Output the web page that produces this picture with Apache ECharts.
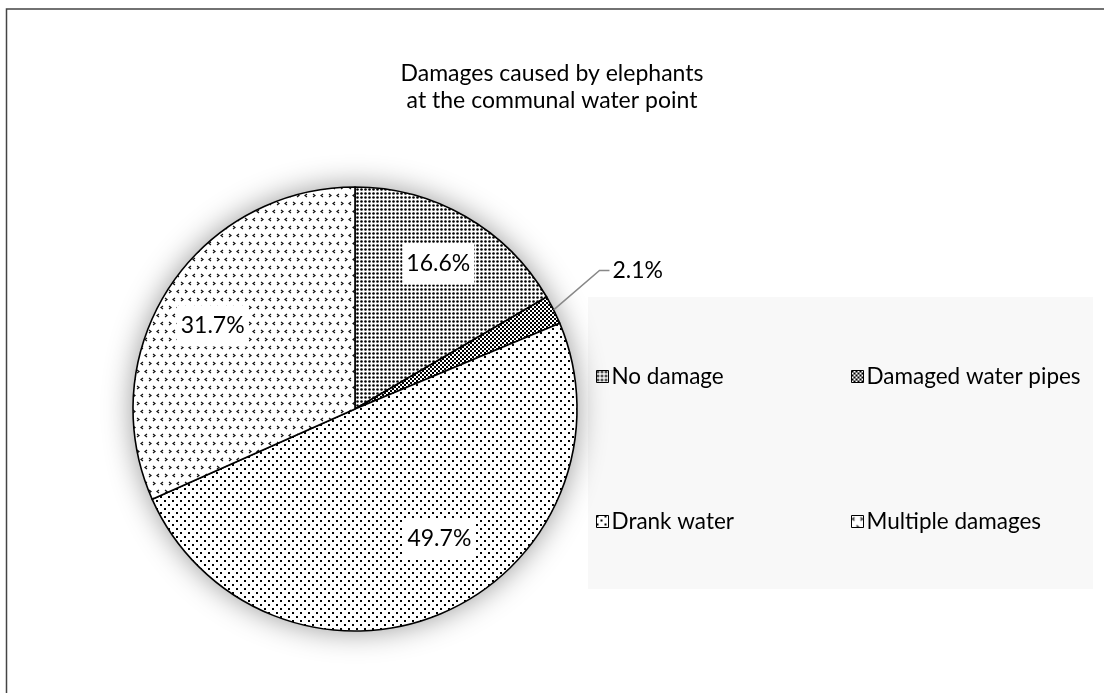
<!DOCTYPE html>
<html>
<head>
<meta charset="utf-8">
<title>Damages caused by elephants at the communal water point</title>
<script src="https://cdn.jsdelivr.net/npm/echarts@6/dist/echarts.min.js"></script>
<style>
  html, body { margin: 0; padding: 0; background: #fff; }
  #chart { width: 1104px; height: 693px; }
</style>
</head>
<body>
<div id="chart"></div>
<script>
// Survey answers and their shares (percent of respondents)
const categories = ['No damage', 'Damaged water pipes', 'Drank water', 'Multiple damages'];
const shares = [16.6, 2.1, 49.7, 31.7];
const titleLines = ['Damages caused by elephants', 'at the communal water point'];

const FONT = 'Lato, "Open Sans", sans-serif';

// Small repeating tiles used as monochrome hatch fills
function tile(w, h, draw) {
  const c = document.createElement('canvas');
  c.width = w; c.height = h;
  const ctx = c.getContext('2d');
  ctx.fillStyle = '#fff';
  ctx.fillRect(0, 0, w, h);
  ctx.fillStyle = '#000';
  ctx.strokeStyle = '#111';
  draw(ctx);
  return { image: c, repeat: 'repeat' };
}

const fills = [
  // dense dot grid
  tile(4, 4, ctx => { ctx.beginPath(); ctx.arc(1.5, 1.5, 1.3, 0, Math.PI * 2); ctx.fill(); }),
  // fine checkerboard
  tile(4, 4, ctx => { ctx.fillRect(0, 0, 2, 2); ctx.fillRect(2, 2, 2, 2); }),
  // sparse staggered dots
  tile(8, 8, ctx => { ctx.fillRect(0, 0, 2, 2); ctx.fillRect(4, 4, 2, 2); }),
  // small chevrons
  tile(16, 16, ctx => {
    ctx.lineWidth = 1.2;
    const lt = (x, y) => { ctx.beginPath(); ctx.moveTo(x + 2, y); ctx.lineTo(x, y + 1.5); ctx.lineTo(x + 2, y + 3); ctx.stroke(); };
    const gt = (x, y) => { ctx.beginPath(); ctx.moveTo(x, y); ctx.lineTo(x + 2, y + 1.5); ctx.lineTo(x, y + 3); ctx.stroke(); };
    lt(1, 2); gt(9, 2); gt(5, 10); lt(13, 10);
  })
];

const pieCenter = [355, 409];
const pieRadius = 222;

const sliceData = categories.map((name, i) => ({
  name: name,
  value: shares[i],
  itemStyle: { color: fills[i] }
}));

const labelData = categories.map((name, i) => {
  const d = { name: name, value: shares[i] };
  if (i === 1) {
    d.label = {
      position: 'outside',
      backgroundColor: 'transparent',
      padding: [0, 0, 0, 3]
    };
    d.labelLine = { show: true, length: 30, length2: 10, lineStyle: { color: '#888', width: 1.5 } };
  }
  return d;
});

// nudges for the value labels, relative to the default spot
function nudgeLabel(p) {
  const r = p.labelRect;
  if (p.dataIndex === 1) {
    return { x: r.x + 14, y: r.y + r.height / 2 - 26, align: 'left', verticalAlign: 'middle' };
  }
  if (p.dataIndex === 2) return { dx: 18, dy: -24 };
  if (p.dataIndex === 3) return { dx: -2, dy: 8 };
  return {};
}

function legendAt(name, i, left, top) {
  return {
    data: [{ name: name, itemStyle: { color: fills[i], borderColor: '#000', borderWidth: 1 } }],
    left: left, top: top,
    icon: 'rect', itemWidth: 12, itemHeight: 12,
    selectedMode: false,
    textStyle: { fontFamily: FONT, fontSize: 22.5, color: '#000', padding: [0, 0, 0, -2] }
  };
}

const chart = echarts.init(document.getElementById('chart'));
chart.setOption({
  animation: false,
  backgroundColor: '#fff',
  title: {
    text: titleLines.join('\n'),
    left: 'center',
    top: 55,
    textStyle: { fontFamily: FONT, fontSize: 23, fontWeight: 'normal', color: '#000', lineHeight: 27 }
  },
  graphic: [
    { type: 'rect', silent: true, z: -20, shape: { x: 6.5, y: 9, width: 1300, height: 900 },
      style: { fill: 'none', stroke: '#444', lineWidth: 1.5 } },
    { type: 'rect', silent: true, z: -10, shape: { x: 588, y: 297, width: 505, height: 292 },
      style: { fill: '#f8f8f8' } }
  ],
  legend: [
    legendAt(categories[0], 0, 591, 360),
    legendAt(categories[1], 1, 846, 360),
    legendAt(categories[2], 2, 591, 505),
    legendAt(categories[3], 3, 846, 505)
  ],
  series: [
    {
      // soft glow under the pie
      type: 'pie', silent: true, center: pieCenter, radius: pieRadius,
      label: { show: false }, labelLine: { show: false },
      itemStyle: { color: '#fff', shadowBlur: 30, shadowColor: 'rgba(0,0,0,0.42)' },
      data: [{ name: '', value: 1 }],
      z: 1
    },
    {
      type: 'pie', silent: true, center: pieCenter, radius: pieRadius,
      startAngle: 90, clockwise: true,
      label: { show: false }, labelLine: { show: false },
      itemStyle: { borderColor: '#000', borderWidth: 1.6 },
      emphasis: { disabled: true },
      data: sliceData,
      z: 2
    },
    {
      // value labels, placed around three quarters of the radius
      type: 'pie', silent: true, center: pieCenter, radius: [pieRadius * 0.48, pieRadius],
      startAngle: 90, clockwise: true,
      itemStyle: { color: 'rgba(0,0,0,0)', borderWidth: 0 },
      emphasis: { disabled: true },
      label: {
        show: true, position: 'inside',
        formatter: p => p.value.toFixed(1) + '%',
        fontFamily: FONT, fontSize: 23, color: '#000',
        backgroundColor: '#fff', padding: [9, 4]
      },
      labelLine: { show: false },
      labelLayout: nudgeLabel,
      data: labelData,
      z: 3
    }
  ]
});
</script>
</body>
</html>
